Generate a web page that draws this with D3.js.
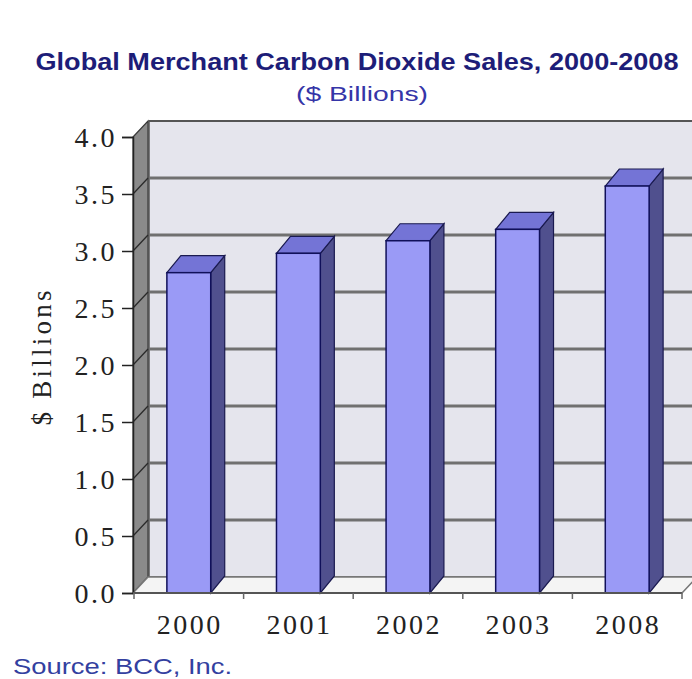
<!DOCTYPE html>
<html><head><meta charset="utf-8">
<script src="https://cdn.jsdelivr.net/npm/d3@7"></script>
<style>html,body{margin:0;padding:0;background:#fff;overflow:hidden}</style>
</head><body>
<svg id="chart" width="692" height="679"></svg>
<script>
const categories = ["2000", "2001", "2002", "2003", "2008"];
const values = [2.81, 2.98, 3.09, 3.19, 3.57];
const yTicks = [0, 0.5, 1.0, 1.5, 2.0, 2.5, 3.0, 3.5, 4.0];
const titleText = "Global Merchant Carbon Dioxide Sales, 2000-2008";
const subtitleText = "($ Billions)";
const yTitle = "$ Billions";
const sourceText = "Source: BCC, Inc.";

const svg = d3.select("#chart");
const DX = 15, DY = -16;   // wall depth
const BDX = 14, BDY = -17; // bar depth
const x = d3.scaleBand().domain(categories).range([134, 682]).paddingInner(0.6).paddingOuter(0.3);
const y = d3.scaleLinear().domain([0, 4]).range([593, 137]);
const x0 = 134, x1 = 682;

// back wall
svg.append("rect").attr("x", x0 + DX).attr("y", y(4) + DY).attr("width", x1 - x0).attr("height", y(0) - y(4))
  .attr("fill", "#e5e5ed").attr("stroke", "#555").attr("stroke-width", 1.5);
// gridlines on back wall
svg.selectAll(".grid").data(yTicks.filter(d => d > 0)).join("line")
  .attr("x1", x0 + DX).attr("x2", x1 + DX + 5)
  .attr("y1", d => y(d) + DY).attr("y2", d => y(d) + DY)
  .attr("stroke", d => d === 4 ? "#555" : "#707070").attr("stroke-width", d => d === 4 ? 2 : 3);
// left wall
svg.append("path").attr("d", d3.line()([[x0 - 1, y(4)], [x0 - 1 + DX, y(4) + DY], [x0 - 1 + DX, y(0) + DY], [x0 - 1, y(0)]]) + "Z")
  .attr("fill", "#8a8a8a").attr("stroke", "#3a3a3a").attr("stroke-width", 1.2);
svg.selectAll(".lw").data(yTicks.filter(d => d > 0 && d < 4)).join("line")
  .attr("x1", x0 - 1).attr("x2", x0 - 1 + DX)
  .attr("y1", d => y(d)).attr("y2", d => y(d) + DY)
  .attr("stroke", "#2a2a2a").attr("stroke-width", 1.2);
// floor
svg.append("path").attr("d", d3.line()([[x0 - 1, y(0)], [x0 - 1 + DX, y(0) + DY], [x1 + DX, y(0) + DY], [x1, y(0)]]) + "Z")
  .attr("fill", "#f4f4f4").attr("stroke", "#777").attr("stroke-width", 1.5);

// bars
const bw = x.bandwidth();
const g = svg.append("g");
categories.forEach((c, i) => {
  const xa = x(c), xb = xa + bw, yt = y(values[i]), yb = y(0);
  g.append("path").attr("d", d3.line()([[xb, yt], [xb + BDX, yt + BDY], [xb + BDX, yb + BDY], [xb, yb]]) + "Z")
    .attr("fill", "#50508e").attr("stroke", "#1a1a50").attr("stroke-width", 1.2);
  g.append("path").attr("d", d3.line()([[xa, yt], [xa + BDX, yt + BDY], [xb + BDX, yt + BDY], [xb, yt]]) + "Z")
    .attr("fill", "#7474d6").attr("stroke", "#1a1a50").attr("stroke-width", 1.2);
  g.append("rect").attr("x", xa).attr("y", yt).attr("width", bw).attr("height", yb - yt)
    .attr("fill", "#9a9af6").attr("stroke", "#10105a").attr("stroke-width", 1.5);
});

// y axis
const ya = svg.append("g").attr("transform", `translate(${x0 - 1},0)`)
  .call(d3.axisLeft(y).tickValues(yTicks).tickFormat(d3.format(".1f")).tickSize(11).tickPadding(5));
ya.select(".domain").attr("stroke", "#222").attr("stroke-width", 1.5);
ya.selectAll(".tick line").attr("stroke", "#222").attr("stroke-width", 1.5);
ya.selectAll(".tick text").attr("font-family", "Liberation Serif, serif").attr("font-size", 28)
  .attr("letter-spacing", 2.5).attr("fill", "#222").attr("dy", "0.34em");

// x axis
const step = x.step();
const bounds = d3.range(categories.length + 1).map(i => x0 + i * step);
svg.append("line").attr("x1", x0 - 1).attr("x2", x1).attr("y1", y(0)).attr("y2", y(0))
  .attr("stroke", "#555").attr("stroke-width", 2);
svg.selectAll(".xt").data(bounds).join("line")
  .attr("x1", d => d).attr("x2", d => d).attr("y1", y(0)).attr("y2", y(0) + 6)
  .attr("stroke", "#666").attr("stroke-width", 1.5);
svg.selectAll(".xl").data(categories).join("text")
  .attr("x", d => x(d) + bw / 2 + 1).attr("y", 634)
  .attr("text-anchor", "middle").attr("font-family", "Liberation Serif, serif").attr("font-size", 28)
  .attr("letter-spacing", 2.5).attr("fill", "#222").text(d => d);

// y title
svg.append("text").attr("transform", "translate(51,358) rotate(-90)")
  .attr("text-anchor", "middle").attr("font-family", "Liberation Serif, serif").attr("font-size", 27)
  .attr("textLength", 135).attr("lengthAdjust", "spacing").attr("fill", "#222").text(yTitle);

// titles
svg.append("text").attr("x", 357).attr("y", 70).attr("text-anchor", "middle")
  .attr("font-family", "Liberation Sans, Arial, sans-serif").attr("font-weight", "bold").attr("font-size", 24)
  .attr("textLength", 643).attr("lengthAdjust", "spacingAndGlyphs").attr("fill", "#1d1d78").text(titleText);
svg.append("text").attr("x", 362).attr("y", 101).attr("text-anchor", "middle")
  .attr("font-family", "Liberation Sans, Arial, sans-serif").attr("font-size", 21)
  .attr("textLength", 132).attr("lengthAdjust", "spacingAndGlyphs").attr("fill", "#3535a8").text(subtitleText);
svg.append("text").attr("x", 13).attr("y", 674)
  .attr("font-family", "Liberation Sans, Arial, sans-serif").attr("font-size", 22)
  .attr("textLength", 219).attr("lengthAdjust", "spacingAndGlyphs").attr("fill", "#3340a0").text(sourceText);
</script>
</body></html>
